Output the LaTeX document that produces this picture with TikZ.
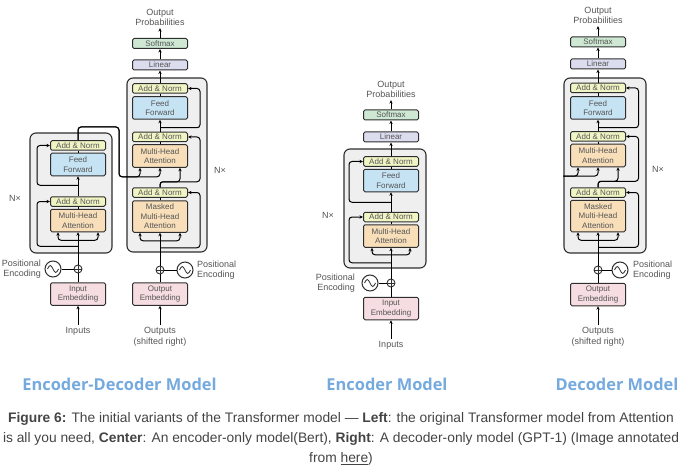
\documentclass[tikz,border=0pt]{standalone}
\usepackage{fontspec}
\setmainfont{Liberation Sans}
\newfontfamily\titlefont{Open Sans}
\usepackage{tikz}
\usetikzlibrary{arrows.meta}
\definecolor{boxline}{HTML}{2E2E2E}
\definecolor{txt}{HTML}{555555}
\definecolor{softfill}{HTML}{CEE8D3}
\definecolor{linfill}{HTML}{DCDCEF}
\definecolor{anfill}{HTML}{F1F5C4}
\definecolor{fffill}{HTML}{C6E3F4}
\definecolor{attfill}{HTML}{F8DFBA}
\definecolor{embfill}{HTML}{F6DDE1}
\definecolor{stackfill}{HTML}{EFEFEF}
\definecolor{ttlblue}{HTML}{75AADE}
\definecolor{captxt}{HTML}{444444}

\begin{document}
\begin{tikzpicture}[x=1pt,y=-1pt,
  box/.style={draw=boxline,line width=1pt,rounded corners=1.5pt,minimum width=55pt,inner sep=0pt,
    font=\fontsize{8}{9.5}\selectfont,text=txt,align=center},
  addnorm/.style={box,fill=anfill,minimum height=9.5pt},
  softbox/.style={box,fill=softfill,minimum height=10pt},
  linbox/.style={box,fill=linfill,minimum height=10pt},
  ffbox/.style={box,fill=fffill,minimum height=22.5pt},
  attbox/.style={box,fill=attfill,minimum height=22.5pt},
  mattbox/.style={box,fill=attfill,minimum height=31.5pt},
  embbox/.style={box,fill=embfill,minimum height=22.5pt},
  stack/.style={draw=boxline,fill=stackfill,line width=1.1pt,rounded corners=6pt,inner sep=0pt},
  lbl/.style={font=\fontsize{9}{10.5}\selectfont,text=txt,align=center,inner sep=2pt},
  pe/.style={circle,draw=boxline,line width=1pt,minimum size=16pt,inner sep=0pt,
    path picture={\draw[line width=0.8pt] ([xshift=-5.5pt]path picture bounding box.center)
      sin ++(2.75pt,3.5pt) cos ++(2.75pt,-3.5pt) sin ++(2.75pt,-3.5pt) cos ++(2.75pt,3.5pt);}},
  plus/.style={circle,draw=boxline,line width=0.9pt,minimum size=8pt,inner sep=0pt,
    path picture={\draw[line width=0.8pt] (path picture bounding box.north) -- (path picture bounding box.south)
      (path picture bounding box.west) -- (path picture bounding box.east);}},
  arr/.style={-{Stealth[length=3.5pt,width=3.2pt]},line width=1pt},
  ln/.style={line width=1pt},
  title/.style={font=\titlefont\bfseries\fontsize{16.4}{19}\selectfont,text=ttlblue,inner sep=0pt},
  capt/.style={font=\fontsize{13.8}{20}\selectfont,text=captxt,align=center,inner sep=0pt}]
\useasboundingbox (0,0) rectangle (680,468);

% encoder-decoder: encoder
\node[stack,minimum width=82pt,minimum height=120pt] (encN) at (71,193) {};
\node[addnorm] (encAN2) at (78,145.5) {Add \& Norm};
\node[ffbox] (encFF) at (78,164.5) {Feed\\Forward};
\node[addnorm] (encAN1) at (78,201.5) {Add \& Norm};
\node[attbox] (encMHA) at (78,220.5) {Multi-Head\\Attention};
\node[plus] (encPlus) at (78,269) {};
\node[pe] (encPE) at (53,269) {};
\node[lbl,anchor=east,align=right] (encPEl) at (43,269) {Positional\\Encoding};
\node[embbox] (encEmb) at (78,294) {Input\\Embedding};
\node[lbl] (encIn) at (78,331) {Inputs};
\node[lbl] (encNx) at (15,198) {N×};
\draw[arr] (encIn) -- (encEmb);
\draw[ln] (encEmb) -- (encPlus);
\draw[ln] (encPE) -- (encPlus);
\draw[arr] (encPlus) -- (encMHA);
\draw[arr,rounded corners=3pt] ([yshift=-8pt]encMHA.south) -| ([xshift=-20pt]encMHA.south);
\draw[arr,rounded corners=3pt] ([yshift=-8pt]encMHA.south) -| ([xshift=20pt]encMHA.south);
\draw[arr,rounded corners=3pt] ([yshift=-14pt]encMHA.south) -| ([xshift=-13pt]encAN1.west) -- (encAN1.west);
\draw[ln] (encMHA) -- (encAN1);
\draw[arr] (encAN1) -- (encFF);
\draw[arr,rounded corners=3pt] ([yshift=-9pt]encFF.south) -| ([xshift=-13pt]encAN2.west) -- (encAN2.west);
\draw[ln] (encFF) -- (encAN2);

% encoder-decoder: decoder
\node[stack,minimum width=80pt,minimum height=174pt] (decN) at (167,165) {};
\node[lbl] (decOut) at (160,17.5) {Output\\Probabilities};
\node[softbox] (decSoft) at (160,43.5) {Softmax};
\node[linbox] (decLin) at (160,65) {Linear};
\node[addnorm] (decAN3) at (160,88.5) {Add \& Norm};
\node[ffbox] (decFF) at (160,108) {Feed\\Forward};
\node[addnorm] (decAN2) at (160,137) {Add \& Norm};
\node[attbox] (decMHA) at (160,156) {Multi-Head\\Attention};
\node[addnorm] (decAN1) at (160,192.5) {Add \& Norm};
\node[mattbox] (decMMHA) at (160,216.5) {Masked\\Multi-Head\\Attention};
\node[plus] (decPlus) at (160,270) {};
\node[pe] (decPE) at (185,270) {};
\node[lbl,anchor=west,align=left] (decPEl) at (195,270) {Positional\\Encoding};
\node[embbox] (decEmb) at (160,294) {Output\\Embedding};
\node[lbl] (decIn) at (160,337) {Outputs\\(shifted right)};
\node[lbl] (decNx) at (220,170) {N×};
\draw[arr] (decIn) -- (decEmb);
\draw[ln] (decEmb) -- (decPlus);
\draw[ln] (decPE) -- (decPlus);
\draw[arr] (decPlus) -- (decMMHA);
\draw[arr,rounded corners=3pt] ([yshift=-8pt]decMMHA.south) -| ([xshift=-20pt]decMMHA.south);
\draw[arr,rounded corners=3pt] ([yshift=-8pt]decMMHA.south) -| ([xshift=20pt]decMMHA.south);
\draw[arr,rounded corners=3pt] ([yshift=-15pt]decMMHA.south) -| ([xshift=12pt]decAN1.east) -- (decAN1.east);
\draw[ln] (decMMHA) -- (decAN1);
\draw[arr,rounded corners=3pt] (decAN1.north) |- ([xshift=20pt,yshift=-14pt]decMHA.south) -- ([xshift=20pt]decMHA.south);
\draw[arr,rounded corners=3pt] (decAN1.north) |- ([xshift=20pt,yshift=-14pt]decMHA.south) -| ([xshift=12pt]decAN2.east) -- (decAN2.east);
\draw[arr,rounded corners=3pt] (encAN2.north) |- (119,127) |- ([xshift=-20pt,yshift=-9pt]decMHA.south) -- ([xshift=-20pt]decMHA.south);
\draw[arr,rounded corners=3pt] (encAN2.north) |- (119,127) |- ([xshift=-10pt,yshift=-9pt]decMHA.south) -| (decMHA.south);
\draw[ln] (decMHA) -- (decAN2);
\draw[arr] (decAN2) -- (decFF);
\draw[arr,rounded corners=3pt] ([yshift=-8pt]decFF.south) -| ([xshift=12pt]decAN3.east) -- (decAN3.east);
\draw[ln] (decFF) -- (decAN3);
\draw[arr] (decAN3) -- (decLin);
\draw[arr] (decLin) -- (decSoft);
\draw[arr] (decSoft) -- (decOut);

% encoder only
\node[stack,minimum width=82pt,minimum height=119pt] (bertN) at (385,208.5) {};
\node[lbl] (bertOut) at (391,89.5) {Output\\Probabilities};
\node[softbox] (bertSoft) at (391,115) {Softmax};
\node[linbox] (bertLin) at (391,137) {Linear};
\node[addnorm] (bertAN2) at (391,161.5) {Add \& Norm};
\node[ffbox] (bertFF) at (391,180.5) {Feed\\Forward};
\node[addnorm] (bertAN1) at (391,217) {Add \& Norm};
\node[attbox] (bertMHA) at (391,236) {Multi-Head\\Attention};
\node[plus] (bertPlus) at (391,283) {};
\node[pe] (bertPE) at (370,283) {};
\node[lbl,anchor=east,align=right] (bertPEl) at (357,283) {Positional\\Encoding};
\node[embbox] (bertEmb) at (391,308.5) {Input\\Embedding};
\node[lbl] (bertIn) at (391,345) {Inputs};
\node[lbl] (bertNx) at (328,215) {N×};
\draw[arr] (bertIn) -- (bertEmb);
\draw[ln] (bertEmb) -- (bertPlus);
\draw[ln] (bertPE) -- (bertPlus);
\draw[arr] (bertPlus) -- (bertMHA);
\draw[arr,rounded corners=3pt] ([yshift=-7pt]bertMHA.south) -| ([xshift=-19pt]bertMHA.south);
\draw[arr,rounded corners=3pt] ([yshift=-7pt]bertMHA.south) -| ([xshift=19pt]bertMHA.south);
\draw[arr,rounded corners=3pt] ([yshift=-15pt]bertMHA.south) -| ([xshift=-14pt]bertAN1.west) -- (bertAN1.west);
\draw[ln] (bertMHA) -- (bertAN1);
\draw[arr] (bertAN1) -- (bertFF);
\draw[arr,rounded corners=3pt] ([yshift=-10pt]bertFF.south) -| ([xshift=-14pt]bertAN2.west) -- (bertAN2.west);
\draw[ln] (bertFF) -- (bertAN2);
\draw[arr] (bertAN2) -- (bertLin);
\draw[arr] (bertLin) -- (bertSoft);
\draw[arr] (bertSoft) -- (bertOut);

% decoder only
\node[stack,minimum width=82pt,minimum height=175pt] (gptN) at (605,165.5) {};
\node[lbl] (gptOut) at (598,15.5) {Output\\Probabilities};
\node[softbox] (gptSoft) at (598,42) {Softmax};
\node[linbox] (gptLin) at (598,64) {Linear};
\node[addnorm] (gptAN3) at (598,88) {Add \& Norm};
\node[ffbox] (gptFF) at (598,108) {Feed\\Forward};
\node[addnorm] (gptAN2) at (598,136.5) {Add \& Norm};
\node[attbox] (gptMHA) at (598,155.5) {Multi-Head\\Attention};
\node[addnorm] (gptAN1) at (598,192.5) {Add \& Norm};
\node[mattbox] (gptMMHA) at (598,216) {Masked\\Multi-Head\\Attention};
\node[plus] (gptPlus) at (598,270) {};
\node[pe] (gptPE) at (620,270) {};
\node[lbl,anchor=west,align=left] (gptPEl) at (631,270) {Positional\\Encoding};
\node[embbox] (gptEmb) at (598,294.5) {Output\\Embedding};
\node[lbl] (gptIn) at (598,337) {Outputs\\(shifted right)};
\node[lbl] (gptNx) at (658,169) {N×};
\coordinate (gptKV) at ([yshift=-10.5pt]gptN.west);
\draw[arr] (gptIn) -- (gptEmb);
\draw[ln] (gptEmb) -- (gptPlus);
\draw[ln] (gptPE) -- (gptPlus);
\draw[arr] (gptPlus) -- (gptMMHA);
\draw[arr,rounded corners=3pt] ([yshift=-8pt]gptMMHA.south) -| ([xshift=-20pt]gptMMHA.south);
\draw[arr,rounded corners=3pt] ([yshift=-8pt]gptMMHA.south) -| ([xshift=20pt]gptMMHA.south);
\draw[arr,rounded corners=3pt] ([yshift=-15pt]gptMMHA.south) -| ([xshift=12.5pt]gptAN1.east) -- (gptAN1.east);
\draw[ln] (gptMMHA) -- (gptAN1);
\draw[arr,rounded corners=3pt] (gptAN1.north) |- ([xshift=20pt,yshift=-14pt]gptMHA.south) -- ([xshift=20pt]gptMHA.south);
\draw[arr,rounded corners=3pt] (gptAN1.north) |- ([xshift=20pt,yshift=-14pt]gptMHA.south) -| ([xshift=12.5pt]gptAN2.east) -- (gptAN2.east);
\draw[arr,rounded corners=3pt] (gptKV) -| ([xshift=-20pt]gptMHA.south);
\draw[arr,rounded corners=3pt] (gptKV) -| (gptMHA.south);
\draw[ln] (gptMHA) -- (gptAN2);
\draw[arr] (gptAN2) -- (gptFF);
\draw[arr,rounded corners=3pt] ([yshift=-8pt]gptFF.south) -| ([xshift=12.5pt]gptAN3.east) -- (gptAN3.east);
\draw[ln] (gptFF) -- (gptAN3);
\draw[arr] (gptAN3) -- (gptLin);
\draw[arr] (gptLin) -- (gptSoft);
\draw[arr] (gptSoft) -- (gptOut);

% titles and caption
\node[title] (ttlA) at (119.5,384) {Encoder-Decoder Model};
\node[title] (ttlB) at (387,384) {Encoder Model};
\node[title] (ttlC) at (617,384) {Decoder Model};
\node[capt] (capt) at (341,439) {\textbf{Figure 6:} The initial variants of the Transformer model — \textbf{Left}: the original Transformer model from Attention\\
is all you need, \textbf{Center}: An encoder-only model(Bert), \textbf{Right}: A decoder-only model (GPT-1) (Image annotated\\
from \underline{here})};
\end{tikzpicture}
\end{document}
